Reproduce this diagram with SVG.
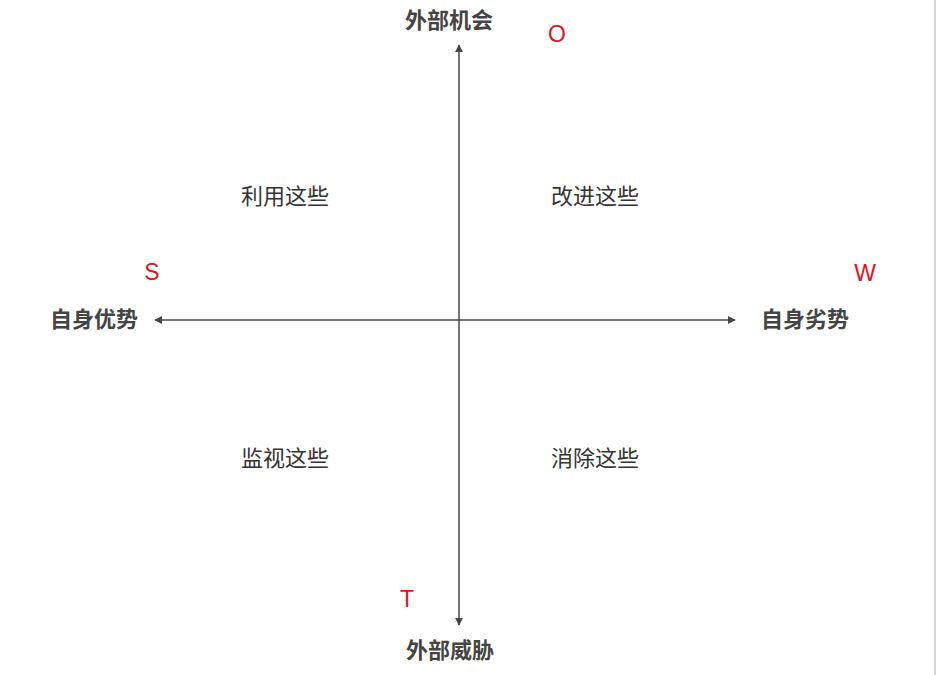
<svg xmlns="http://www.w3.org/2000/svg" width="936" height="675" viewBox="0 0 936 675">
<style>
.axis{stroke:#444;stroke-width:1.5;fill:none}
.lbl{font-family:"Noto Sans CJK SC","Noto Sans",sans-serif;font-size:22px;font-weight:bold;fill:#444;text-anchor:middle;dominant-baseline:central}
.q{font-family:"Noto Sans CJK SC","Noto Sans",sans-serif;font-size:22px;fill:#333;text-anchor:middle;dominant-baseline:central}
.r{font-family:"Liberation Sans","Noto Sans",sans-serif;font-size:23px;fill:#e8111a;text-anchor:middle;dominant-baseline:central}
</style>
<defs>
<marker id="ah" viewBox="0 0 10 10" refX="9" refY="5" markerWidth="8" markerHeight="8" markerUnits="userSpaceOnUse" orient="auto">
<path d="M0,0 L10,5 L0,10 Z" fill="#444"/>
</marker>
</defs>
<rect x="0" y="0" width="936" height="675" fill="#fff"/>
<line x1="935" y1="0" x2="935" y2="675" stroke="#c8c8c8" stroke-width="1.5"/>
<g id="connectors">
<line class="axis" x1="459" y1="320" x2="459" y2="45" marker-end="url(#ah)"/>
<line class="axis" x1="459" y1="320" x2="459" y2="625" marker-end="url(#ah)"/>
<line class="axis" x1="459" y1="320" x2="155" y2="320" marker-end="url(#ah)"/>
<line class="axis" x1="459" y1="320" x2="735" y2="320" marker-end="url(#ah)"/>
</g>
<g id="top"><text class="lbl" x="449" y="18">外部机会</text></g>
<g id="bottom"><text class="lbl" x="450" y="648">外部威胁</text></g>
<g id="left"><text class="lbl" x="94" y="317">自身优势</text></g>
<g id="right"><text class="lbl" x="805" y="317">自身劣势</text></g>
<g id="q1"><text class="q" x="285" y="194">利用这些</text></g>
<g id="q2"><text class="q" x="595" y="194">改进这些</text></g>
<g id="q3"><text class="q" x="285" y="456">监视这些</text></g>
<g id="q4"><text class="q" x="595" y="456">消除这些</text></g>
<g id="O"><text class="r" x="557" y="34">O</text></g>
<g id="S"><text class="r" x="152" y="272">S</text></g>
<g id="W"><text class="r" x="865" y="273">W</text></g>
<g id="T"><text class="r" x="407" y="599">T</text></g>
</svg>
